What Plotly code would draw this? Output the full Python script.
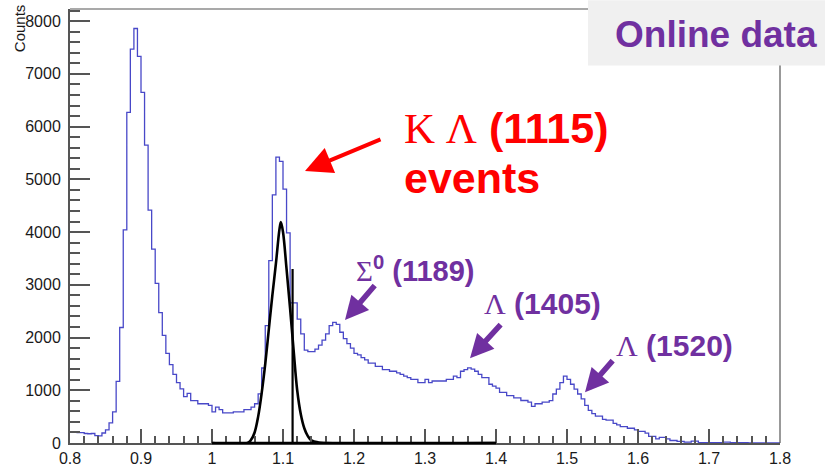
import plotly.graph_objects as go

# ---------------- data ----------------
x_min, x_max, bin_width = 0.8, 1.8, 0.005
counts = [
    200, 200, 195, 195, 180, 175, 180, 140, 135, 190,          # 0.800-0.845
    250, 380, 590, 1170, 2190, 4040, 6270, 7470, 7860, 7330,   # 0.850-0.895
    6650, 5650, 4417, 3676, 3028, 2472, 2040, 1700, 1485, 1300, # 0.900-0.945
    1145, 1028, 880, 940, 805, 805, 744, 744, 744, 713,        # 0.950-0.995
    589, 681, 633, 570, 570, 570, 590, 590, 590, 633,          # 1.000-1.045
    633, 680, 744, 930, 1422, 2226, 3460, 4707, 5420, 5340,    # 1.050-1.095
    4815, 3985, 2657, 2657, 2348, 2070, 1763, 1732, 1732, 1780, # 1.100-1.145
    1855, 1950, 2070, 2226, 2287, 2250, 2100, 1978, 1886, 1800, # 1.150-1.195
    1700, 1670, 1620, 1577, 1516, 1516, 1454, 1454, 1392, 1392, # 1.200-1.245
    1361, 1361, 1330, 1300, 1269, 1238, 1207, 1207, 1145, 1145, # 1.250-1.295
    1207, 1145, 1176, 1176, 1176, 1176, 1207, 1207, 1269, 1238, # 1.300-1.345
    1361, 1392, 1423, 1400, 1361, 1300, 1238, 1238, 1114, 1080, # 1.350-1.395
    1040, 960, 960, 898, 898, 855, 855, 806, 806, 775,         # 1.400-1.445
    695, 744, 744, 775, 775, 805, 929, 1021, 1145, 1269,       # 1.450-1.495
    1207, 1114, 1021, 929, 836, 713, 620, 558, 509, 509,       # 1.500-1.545
    447, 435, 435, 373, 343, 311, 311, 280, 280, 250,          # 1.550-1.595
    219, 219, 189, 127, 127, 78, 108, 108, 78, 47,             # 1.600-1.645
    47, 29, 29, 16, 16, 35, 35, 8, 8, 8,                       # 1.650-1.695
    8, 8, 8, 8, 18, 18, 6, 6, 6, 6,                            # 1.700-1.745
    6, 3, 3, 3, 3, 3, 3, 3, 3, 3,                              # 1.750-1.795
]

# black signal curve (K Lambda(1115) events)
sig_x = [1.00, 1.05, 1.055, 1.06, 1.065, 1.07, 1.075, 1.08, 1.085, 1.09, 1.095,
         1.097, 1.10, 1.105, 1.11, 1.115, 1.12, 1.125, 1.13, 1.135, 1.14, 1.15, 1.16, 1.40]
sig_y = [0, 0, 60, 200, 500, 950, 1500, 2150, 2800, 3400, 4050,
         4190, 4000, 3300, 2550, 1750, 1000, 550, 280, 130, 50, 10, 0, 0]
sig_range = [1.0, 1.4]

# vertical marker line
marker_x = [1.1135, 1.1135]
marker_y = [0, 3300]

y_top = 8230

# ---------------- figure ----------------
W, H = 825, 476
ML, MR, MT, MB = 70, 45, 9, 22
PW, PH = W - ML - MR, H - MT - MB


def px(xp):
    return x_min + (xp - ML) / PW * (x_max - x_min)


def py(yp):
    return (MT + PH - yp) / PH * y_top


edges = [x_min + i * bin_width for i in range(len(counts) + 1)]

fig = go.Figure()
fig.add_trace(go.Scatter(
    x=edges, y=counts + [counts[-1]], mode="lines", line_shape="hv",
    line=dict(color="#4848C8", width=1.3), hoverinfo="skip"))
fig.add_trace(go.Scatter(
    x=sig_x, y=sig_y, mode="lines", line_shape="spline",
    line=dict(color="#000000", width=2.6), hoverinfo="skip"))
fig.add_trace(go.Scatter(
    x=marker_x, y=marker_y, mode="lines",
    line=dict(color="#000000", width=2.2), hoverinfo="skip"))

axis_common = dict(
    showgrid=False, zeroline=False, showline=True, linecolor="#555555",
    linewidth=2, ticks="inside", tickcolor="#555555", tickwidth=1.5,
    tickfont=dict(family="Liberation Sans, Arial", size=16, color="#1a1a1a"),
)
fig.update_xaxes(range=[x_min, x_max], dtick=0.1, tick0=0.8, ticklen=14,
                 tickformat="~g",
                 minor=dict(dtick=0.02, ticklen=7, ticks="inside",
                            tickcolor="#555555", tickwidth=1.5),
                 **axis_common)
fig.update_yaxes(range=[0, y_top], dtick=1000, ticklen=20, ticklabelstandoff=4,
                 minor=dict(dtick=200, ticklen=10, ticks="inside",
                            tickcolor="#555555", tickwidth=1.5),
                 **axis_common)

shapes = [
    # top and right frame
    dict(type="line", xref="paper", yref="paper", x0=0, x1=1, y0=1, y1=1,
         line=dict(color="#555555", width=1.2)),
    dict(type="line", xref="paper", yref="paper", x0=1, x1=1, y0=0, y1=1,
         line=dict(color="#555555", width=1.2)),
    # black baseline of the signal histogram
    dict(type="line", xref="x", yref="paper", x0=sig_range[0], x1=sig_range[1],
         y0=0, y1=0, line=dict(color="#000000", width=2.5), layer="above"),
    # "Online data" box
    dict(type="rect", xref="paper", yref="paper",
         x0=(588 - ML) / PW, x1=(W - ML) / PW,
         y0=(MT + PH - 67) / PH, y1=(MT + PH + 0) / PH,
         fillcolor="#F0F0F0", line=dict(width=0), layer="above"),
]

purple = "#7030A0"
red = "#FF0000"
serif = "Liberation Serif, Times New Roman, serif"
sans = "Liberation Sans, Arial, sans-serif"

ann = []
# text labels
ann.append(dict(x=px(402), y=py(131), xanchor="left", yanchor="middle",
                showarrow=False,
                text=f"<span style='font-family:{serif}'>K Λ</span> <b>(1115)</b>",
                font=dict(family=sans, size=43, color=red)))
ann.append(dict(x=px(402), y=py(182), xanchor="left", yanchor="middle",
                showarrow=False, text="<b>events</b>",
                font=dict(family=sans, size=43, color=red)))
ann.append(dict(x=px(354), y=py(276), xanchor="left", showarrow=False,
                text=f"<span style='font-family:{serif}'>Σ</span><b><sup>0</sup> (1189)</b>",
                font=dict(family=sans, size=29, color=purple)))
ann.append(dict(x=px(482), y=py(311), xanchor="left", showarrow=False,
                text=f"<span style='font-family:{serif}'>Λ</span> <b>(1405)</b>",
                font=dict(family=sans, size=30, color=purple)))
ann.append(dict(x=px(614), y=py(354), xanchor="left", showarrow=False,
                text=f"<span style='font-family:{serif}'>Λ</span> <b>(1520)</b>",
                font=dict(family=sans, size=30, color=purple)))
ann.append(dict(x=px(716), y=py(35), showarrow=False,
                text="<b>Online data</b>",
                font=dict(family=sans, size=37, color=purple)))
# y-axis title
ann.append(dict(xref="paper", yref="paper", x=-(ML - 19) / PW, y=(MT + PH - 2) / PH,
                xanchor="center", yanchor="top", textangle=-90, showarrow=False,
                text="Counts", font=dict(family=sans, size=15, color="#1a1a1a")))

# arrows (head, tail) in pixels
arrows = [
    ((305, 175), (382, 142), red, 4, 1.35),
    ((345, 328), (376, 291), purple, 5.5, 0.85),
    ((470, 367), (502, 331), purple, 5.5, 0.85),
    ((585, 402), (614, 368), purple, 5.5, 0.85),
]
for (hx, hy), (tx, ty), col, w, s in arrows:
    ann.append(dict(x=px(hx), y=py(hy), ax=px(tx), ay=py(ty), axref="x", ayref="y",
                    text="", showarrow=True, arrowhead=2, arrowsize=s,
                    arrowwidth=w, arrowcolor=col, standoff=0, startstandoff=0))

fig.update_layout(
    width=W, height=H, margin=dict(l=ML, r=MR, t=MT, b=MB),
    paper_bgcolor="white", plot_bgcolor="white", showlegend=False,
    shapes=shapes, annotations=ann,
)

fig.write_html("out.html")
